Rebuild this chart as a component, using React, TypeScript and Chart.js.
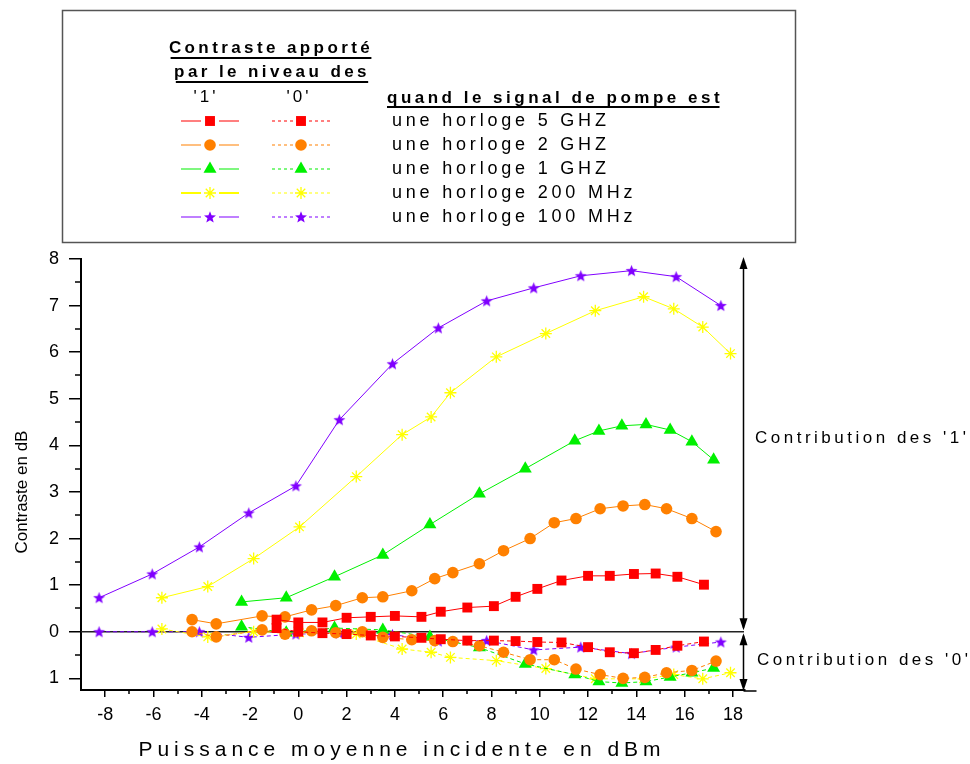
import React, { useEffect, useRef } from 'react';
import { Chart, registerables } from 'chart.js';

Chart.register(...registerables);

const FONT = '"Liberation Sans", Arial, Helvetica, sans-serif';

// ---- Axis ticks ----
const xTickValues = [-8, -6, -4, -2, 0, 2, 4, 6, 8, 10, 12, 14, 16, 18];
const xMinorTicks = [-7, -5, -3, -1, 1, 3, 5, 7, 9, 11, 13, 15, 17];
const yTickValues = [8, 7, 6, 5, 4, 3, 2, 1, 0, -1];
const yMinorTicks = [7.5, 6.5, 5.5, 4.5, 3.5, 2.5, 1.5, 0.5, -0.5];

// ---- Series labels ----
const seriesLabels = [
  'une horloge 5 GHZ',
  'une horloge 2 GHZ',
  'une horloge 1 GHZ',
  'une horloge 200 MHz',
  'une horloge 100 MHz',
];

// ---- 5 GHz (red squares) ----
const x5GHz = [-0.9, 0, 1.0, 2.0, 3.0, 4.0, 5.1, 5.9, 7.0, 8.1, 9.0, 9.9, 10.9, 12.0, 12.9, 13.9, 14.8, 15.7, 16.8];
const ones5GHz = [0.26, 0.2, 0.2, 0.3, 0.32, 0.34, 0.32, 0.43, 0.52, 0.55, 0.75, 0.92, 1.1, 1.2, 1.2, 1.24, 1.25, 1.18, 1.01];
const zeros5GHz = [0.08, 0.0, -0.03, -0.05, -0.08, -0.1, -0.13, -0.16, -0.19, -0.19, -0.2, -0.22, -0.23, -0.33, -0.44, -0.46, -0.39, -0.3, -0.21];

// ---- 2 GHz (orange circles) ----
const x2GHz = [-4.4, -3.4, -1.5, -0.55, 0.55, 1.55, 2.65, 3.5, 4.7, 5.65, 6.4, 7.5, 8.5, 9.6, 10.6, 11.5, 12.5, 13.45, 14.35, 15.25, 16.3, 17.3];
const ones2GHz = [0.26, 0.17, 0.34, 0.32, 0.47, 0.56, 0.73, 0.75, 0.88, 1.14, 1.27, 1.46, 1.74, 2.0, 2.34, 2.43, 2.64, 2.7, 2.73, 2.64, 2.43, 2.15];
const zeros2GHz = [0.0, -0.11, 0.04, -0.05, 0.02, -0.02, 0.0, -0.12, -0.17, -0.19, -0.21, -0.3, -0.44, -0.6, -0.6, -0.8, -0.92, -1.0, -0.98, -0.88, -0.83, -0.63];

// ---- 1 GHz (green triangles) ----
const x1GHz = [-2.35, -0.5, 1.5, 3.5, 5.45, 7.5, 9.4, 11.45, 12.45, 13.4, 14.4, 15.4, 16.3, 17.2];
const ones1GHz = [0.64, 0.73, 1.18, 1.65, 2.3, 2.96, 3.5, 4.1, 4.31, 4.42, 4.45, 4.33, 4.08, 3.69];
const zeros1GHz = [0.11, -0.02, 0.08, 0.04, -0.11, -0.34, -0.69, -0.92, -1.07, -1.1, -1.07, -0.97, -0.88, -0.78];

// ---- 200 MHz (yellow asterisks) ----
const x200MHz = [-5.65, -3.75, -1.85, 0.05, 2.4, 4.3, 5.5, 6.3, 8.2, 10.25, 12.3, 14.3, 15.55, 16.75, 17.9];
const ones200MHz = [0.73, 0.97, 1.57, 2.25, 3.33, 4.23, 4.61, 5.13, 5.9, 6.4, 6.89, 7.19, 6.93, 6.54, 5.97];
const zeros200MHz = [0.06, -0.11, 0.0, -0.02, -0.05, -0.37, -0.44, -0.55, -0.62, -0.79, -1.01, -1.01, -0.92, -1.01, -0.88];

// ---- 100 MHz (purple stars) ----
const x100MHz = [-8.25, -6.05, -4.1, -2.05, -0.1, 1.7, 3.9, 5.8, 7.8, 9.75, 11.7, 13.8, 15.65, 17.5];
const ones100MHz = [0.73, 1.24, 1.82, 2.55, 3.13, 4.55, 5.75, 6.52, 7.1, 7.38, 7.64, 7.75, 7.62, 7.0];
const zeros100MHz = [0.0, 0.0, 0.0, -0.12, -0.05, -0.03, -0.06, -0.2, -0.19, -0.39, -0.33, -0.47, -0.33, -0.22];

const RED = '#FF0000';
const ORANGE = '#FF8000';
const GREEN = '#00F000';
const YELLOW = '#FFFF00';
const PURPLE = '#8000FF';

type Kind = 'rect' | 'circle' | 'triangle' | 'asterisk' | 'star5';

function starPath(ctx: CanvasRenderingContext2D, cx: number, cy: number, ro: number, ri: number) {
  ctx.beginPath();
  for (let i = 0; i < 10; i++) {
    const r = i % 2 === 0 ? ro : ri;
    const a = -Math.PI / 2 + (i * Math.PI) / 5;
    const px = cx + Math.cos(a) * r;
    const py = cy + Math.sin(a) * r;
    if (i === 0) ctx.moveTo(px, py);
    else ctx.lineTo(px, py);
  }
  ctx.closePath();
}

function makeStarImage(color: string, ro: number) {
  const size = Math.ceil(ro * 2 + 2);
  const c = document.createElement('canvas');
  c.width = size;
  c.height = size;
  const g = c.getContext('2d')!;
  g.fillStyle = color;
  starPath(g, size / 2, size / 2 + 0.5, ro, ro * 0.42);
  g.fill();
  return c;
}

function drawMarker(ctx: CanvasRenderingContext2D, kind: Kind, x: number, y: number, color: string, r: number) {
  ctx.save();
  ctx.fillStyle = color;
  ctx.strokeStyle = color;
  ctx.setLineDash([]);
  if (kind === 'rect') {
    const s = r * Math.SQRT2;
    ctx.fillRect(x - s / 2, y - s / 2, s, s);
  } else if (kind === 'circle') {
    ctx.beginPath();
    ctx.arc(x, y, r, 0, Math.PI * 2);
    ctx.fill();
  } else if (kind === 'triangle') {
    ctx.beginPath();
    let a = 0;
    ctx.moveTo(x + Math.sin(a) * r, y - Math.cos(a) * r);
    a += (2 * Math.PI) / 3;
    ctx.lineTo(x + Math.sin(a) * r, y - Math.cos(a) * r);
    a += (2 * Math.PI) / 3;
    ctx.lineTo(x + Math.sin(a) * r, y - Math.cos(a) * r);
    ctx.closePath();
    ctx.fill();
  } else if (kind === 'asterisk') {
    ctx.lineWidth = 1.3;
    ctx.beginPath();
    ctx.moveTo(x - r, y); ctx.lineTo(x + r, y);
    ctx.moveTo(x, y - r); ctx.lineTo(x, y + r);
    const d = r * Math.SQRT1_2;
    ctx.moveTo(x - d, y - d); ctx.lineTo(x + d, y + d);
    ctx.moveTo(x - d, y + d); ctx.lineTo(x + d, y - d);
    ctx.stroke();
  } else {
    starPath(ctx, x, y + 0.5, r, r * 0.42);
    ctx.fill();
  }
  ctx.restore();
}

function spacedText(
  ctx: CanvasRenderingContext2D,
  text: string,
  x: number,
  y: number,
  font: string,
  spacing: number,
  align: CanvasTextAlign,
  underline = 0
) {
  ctx.save();
  ctx.font = font;
  (ctx as any).letterSpacing = spacing + 'px';
  ctx.textAlign = align;
  ctx.textBaseline = 'middle';
  ctx.fillStyle = '#000';
  ctx.fillText(text, x, y);
  if (underline) {
    const w = ctx.measureText(text).width - spacing;
    let x0 = x;
    if (align === 'center') x0 = x - w / 2;
    else if (align === 'right') x0 = x - w;
    ctx.strokeStyle = '#000';
    ctx.lineWidth = 2;
    ctx.beginPath();
    ctx.moveTo(x0, underline);
    ctx.lineTo(x0 + w, underline);
    ctx.stroke();
  }
  ctx.restore();
}

export default function App() {
  const canvasRef = useRef<HTMLCanvasElement | null>(null);

  useEffect(() => {
    const canvas = canvasRef.current;
    if (!canvas) return;

    const starImg1 = makeStarImage(PURPLE, 6.3);

    const groups = [
      { label: seriesLabels[0], color: RED, kind: 'rect' as Kind, r: 7, xs: x5GHz, ones: ones5GHz, zeros: zeros5GHz },
      { label: seriesLabels[1], color: ORANGE, kind: 'circle' as Kind, r: 5.8, xs: x2GHz, ones: ones2GHz, zeros: zeros2GHz },
      { label: seriesLabels[2], color: GREEN, kind: 'triangle' as Kind, r: 7.5, xs: x1GHz, ones: ones1GHz, zeros: zeros1GHz },
      { label: seriesLabels[3], color: YELLOW, kind: 'asterisk' as Kind, r: 6, xs: x200MHz, ones: ones200MHz, zeros: zeros200MHz },
      { label: seriesLabels[4], color: PURPLE, kind: 'star5' as Kind, r: 6.3, xs: x100MHz, ones: ones100MHz, zeros: zeros100MHz },
    ];

    const styleFor = (k: Kind): any => {
      if (k === 'rect') return 'rect';
      if (k === 'circle') return 'circle';
      if (k === 'triangle') return 'triangle';
      if (k === 'asterisk') return 'star';
      return starImg1;
    };

    const datasets: any[] = [];
    groups.forEach((g) => {
      ['zeros', 'ones'].forEach((which) => {
        const vals = (g as any)[which] as number[];
        datasets.push({
          label: g.label + (which === 'ones' ? " '1'" : " '0'"),
          data: g.xs.map((x, i) => ({ x, y: vals[i] })),
          borderColor: g.color,
          backgroundColor: g.color,
          borderWidth: 1,
          borderDash: which === 'zeros' ? [4, 3] : [],
          pointStyle: styleFor(g.kind),
          pointRadius: g.r,
          pointBackgroundColor: g.color,
          pointBorderColor: g.color,
          pointBorderWidth: g.kind === 'asterisk' ? 1.3 : 0,
          tension: 0,
          fill: false,
        });
      });
    });

    const decor = {
      id: 'decor',
      beforeDatasetsDraw(chart: any) {
        const ctx = chart.ctx as CanvasRenderingContext2D;
        const y0 = chart.scales.y.getPixelForValue(0);
        ctx.save();
        ctx.strokeStyle = '#222';
        ctx.lineWidth = 1.6;
        ctx.beginPath();
        ctx.moveTo(chart.chartArea.left, y0);
        ctx.lineTo(chart.chartArea.right - 1, y0);
        ctx.stroke();
        ctx.restore();
      },
      afterDraw(chart: any) {
        const ctx = chart.ctx as CanvasRenderingContext2D;
        const xs = chart.scales.x;
        const ys = chart.scales.y;
        const area = chart.chartArea;

        // minor ticks
        ctx.save();
        ctx.strokeStyle = '#000';
        ctx.lineWidth = 1.5;
        ctx.beginPath();
        xMinorTicks.forEach((v) => {
          const px = Math.round(xs.getPixelForValue(v));
          ctx.moveTo(px, area.bottom);
          ctx.lineTo(px, area.bottom + 4);
        });
        yMinorTicks.forEach((v) => {
          const py = Math.round(ys.getPixelForValue(v));
          ctx.moveTo(area.left - 6, py);
          ctx.lineTo(area.left, py);
        });
        ctx.stroke();
        ctx.restore();

        // axis titles
        spacedText(ctx, 'Puissance moyenne incidente en dBm', 402, 750, `21px ${FONT}`, 5, 'center');
        ctx.save();
        ctx.translate(22, 492);
        ctx.rotate(-Math.PI / 2);
        spacedText(ctx, 'Contraste en dB', 0, 0, `17px ${FONT}`, 0, 'center');
        ctx.restore();

        // right-hand contribution arrows
        const ax = 743.5;
        const yTop = ys.getPixelForValue(8) - 2;
        const yZero = ys.getPixelForValue(0);
        const yBot = area.bottom + 1;
        ctx.save();
        ctx.strokeStyle = '#000';
        ctx.fillStyle = '#000';
        ctx.lineWidth = 1.5;
        ctx.beginPath();
        ctx.moveTo(ax, yTop + 4);
        ctx.lineTo(ax, yZero - 4);
        ctx.moveTo(ax, yZero + 4);
        ctx.lineTo(ax, yBot - 4);
        ctx.moveTo(ax, yBot);
        ctx.lineTo(ax + 13, yBot);
        ctx.stroke();
        const head = (tipY: number, dir: number) => {
          ctx.beginPath();
          ctx.moveTo(ax, tipY);
          ctx.lineTo(ax - 4, tipY + dir * 12);
          ctx.lineTo(ax + 4, tipY + dir * 12);
          ctx.closePath();
          ctx.fill();
        };
        head(yTop, 1);
        head(yZero - 1.5, -1);
        head(yZero + 1.5, 1);
        head(yBot, -1);
        ctx.restore();
        spacedText(ctx, "Contribution des '1'", 755, 438, `17px ${FONT}`, 3.5, 'left');
        spacedText(ctx, "Contribution des '0'", 757, 660, `17px ${FONT}`, 3.5, 'left');

        // legend box
        ctx.save();
        ctx.strokeStyle = '#555';
        ctx.lineWidth = 1.5;
        ctx.strokeRect(62.5, 10.5, 733, 232);
        ctx.restore();

        spacedText(ctx, 'Contraste apporté', 271, 48, `bold 17px ${FONT}`, 3.4, 'center', 58);
        spacedText(ctx, 'par le niveau des', 272, 72, `bold 17px ${FONT}`, 3.4, 'center', 82);
        spacedText(ctx, "'1'", 206, 97, `17px ${FONT}`, 3, 'center');
        spacedText(ctx, "'0'", 299, 97, `17px ${FONT}`, 3, 'center');
        spacedText(ctx, 'quand le signal de pompe est', 387, 98, `bold 17px ${FONT}`, 3.5, 'left', 107);

        const rowsY = [121, 145, 169, 193, 217];
        groups.forEach((g, i) => {
          const y = rowsY[i];
          ctx.save();
          ctx.strokeStyle = g.color;
          ctx.lineWidth = g.kind === 'asterisk' ? 2 : 1.2;
          ctx.beginPath();
          ctx.moveTo(181, y); ctx.lineTo(201, y);
          ctx.moveTo(219, y); ctx.lineTo(239, y);
          ctx.stroke();
          ctx.setLineDash([3, 3]);
          ctx.lineWidth = 1.2;
          ctx.beginPath();
          ctx.moveTo(272, y); ctx.lineTo(294, y);
          ctx.moveTo(309, y); ctx.lineTo(331, y);
          ctx.stroke();
          ctx.restore();
          drawMarker(ctx, g.kind, 210, y, g.color, g.r);
          drawMarker(ctx, g.kind, 301, y, g.color, g.r);
          spacedText(ctx, g.label, 392, y, `18px ${FONT}`, 3.8, 'left');
        });
      },
    };

    const chart = new Chart(canvas, {
      type: 'line',
      data: { datasets },
      options: {
        responsive: false,
        animation: false,
        events: [],
        layout: { padding: { left: 0, top: 259, right: 225, bottom: 0 } },
        plugins: {
          legend: { display: false },
          tooltip: { enabled: false },
        },
        scales: {
          x: {
            type: 'linear',
            min: -9,
            max: 18.5,
            afterBuildTicks: (s: any) => {
              s.ticks = xTickValues.map((v) => ({ value: v }));
            },
            afterFit: (s: any) => {
              s.height = 74;
            },
            ticks: {
              autoSkip: false,
              maxRotation: 0,
              color: '#000',
              padding: 7,
              font: { family: FONT, size: 18 },
              callback: (v: any) => String(v),
            },
            grid: {
              drawOnChartArea: false,
              drawTicks: true,
              tickLength: 7,
              color: '#000',
              lineWidth: 1.5,
            },
            border: { display: true, color: '#000', width: 2 },
          },
          y: {
            type: 'linear',
            min: -1.25,
            max: 8,
            afterBuildTicks: (s: any) => {
              s.ticks = yTickValues.map((v) => ({ value: v }));
            },
            afterFit: (s: any) => {
              s.width = 81;
            },
            ticks: {
              autoSkip: false,
              color: '#000',
              padding: 10,
              font: { family: FONT, size: 18 },
              callback: (v: any) => String(Math.abs(Number(v))),
            },
            grid: {
              drawOnChartArea: false,
              drawTicks: true,
              tickLength: 12,
              color: '#000',
              lineWidth: 1.5,
            },
            border: { display: true, color: '#000', width: 2 },
          },
        },
      } as any,
      plugins: [decor as any],
    });

    return () => {
      chart.destroy();
    };
  }, []);

  return (
    <div style={{ position: 'fixed', left: 0, top: 0, width: 970, height: 764, background: '#fff' }}>
      <canvas ref={canvasRef} width={970} height={764} style={{ width: 970, height: 764, display: 'block' }} />
    </div>
  );
}
